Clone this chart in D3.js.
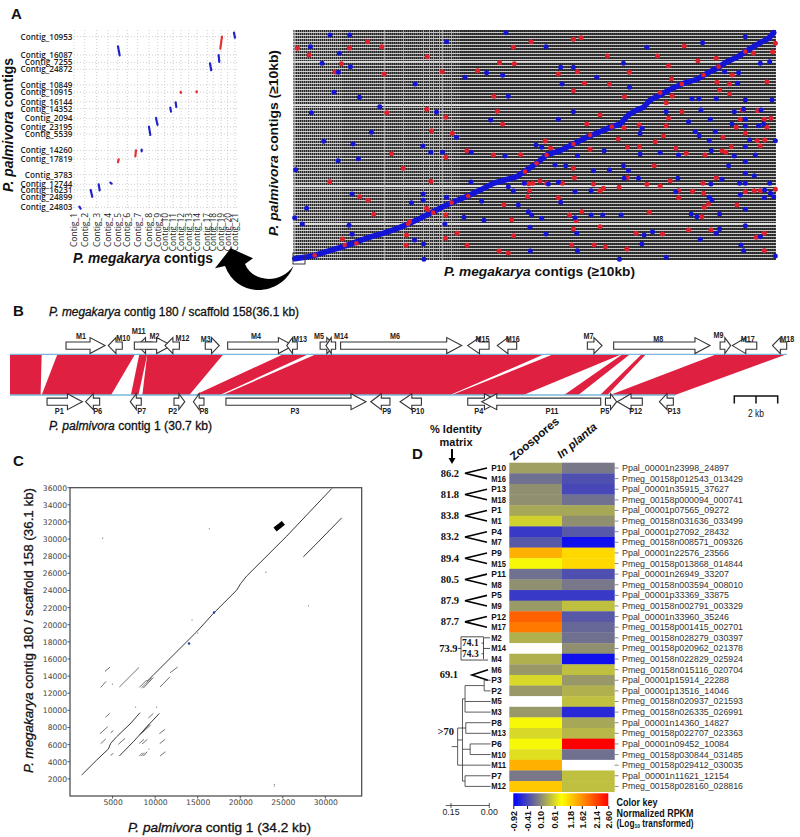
<!DOCTYPE html>
<html>
<head>
<meta charset="utf-8">
<script src="https://cdnjs.cloudflare.com/ajax/libs/d3/7.8.5/d3.min.js"></script>
<style>
  html, body { margin: 0; padding: 0; background: #fff; }
  text { font-family: "Liberation Sans", Arial, sans-serif; fill: #111; }
</style>
</head>
<body>
<div class="chart"></div>
<script>
/* panel A left : contig vs contig synteny */
const megaContigs = ["Contig_1","Contig_2","Contig_3","Contig_4","Contig_5","Contig_6","Contig_7","Contig_8","Contig_9","Contig_10","Contig_11","Contig_12","Contig_13","Contig_14","Contig_17","Contig_18","Contig_19","Contig_20","Contig_21"];
const megaContigPos = [222,254,290,324,353,382,413,447,473,494,519,543,566,591,622,640,663,683,705];
const palmContigs = ["Contig_10953","Contig_16087","Contig_7255","Contig_24872","Contig_10849","Contig_10915","Contig_16144","Contig_14352","Contig_2094","Contig_23195","Contig_5539","Contig_14260","Contig_17819","Contig_3783","Contig_12744","Contig_16231","Contig_24899","Contig_24803"];
const palmContigPos = [110,165,187,208,255,277,305,326,355,381,402,451,477,524,553,570,590,622];
const blueHits = [[238,620,242,626],[272,570,277,591],[296,553,299,571],[331,548,335,551],[354,139,359,166],[425,449,425,454],[447,380,451,405],[468,354,473,376],[511,323,513,335],[527,307,529,321],[630,190,634,211],[656,165,658,187],[702,98,705,113]];
const redHits = [[356,478,354,487],[408,451,406,469],[542,276,543,279],[590,274,590,277],[666,110,661,146]];

/* panel A right : all contigs, rank vs rank */
const mainDiagonal = [[105,716],[135,712],[165,706],[200,695],[240,683],[270,673],[300,662],[335,650],[370,640],[405,628],[445,612],[475,598],[500,585],[530,570],[560,555],[595,540],[630,525],[665,508],[700,490],[735,480],[770,470],[800,450],[830,430],[860,405],[900,392],[940,372],[980,352],[1020,335],[1055,320],[1080,312],[1095,295],[1105,285],[1130,270],[1150,262],[1170,240],[1200,225],[1230,208],[1270,190],[1310,178],[1340,160],[1370,145],[1400,125],[1430,112],[1460,92],[1500,68],[1525,55],[1540,38]];
const diagonalRed = [[165,706],[255,675],[290,670],[445,612],[450,605],[505,570],[520,578],[575,548],[625,528],[795,455],[830,430],[860,405],[940,372],[990,345],[1055,320],[1200,218],[1265,192],[1330,165],[1375,140],[1455,95]];
const blueDots = [[211,45],[270,45],[738,38],[560,65],[152,80],[239,100],[187,130],[272,140],[236,157],[680,158],[728,166],[615,172],[466,192],[223,217],[299,232],[745,229],[360,260],[530,276],[155,278],[692,300],[335,337],[590,352],[192,364],[280,372],[489,378],[513,397],[548,397],[634,397],[735,408],[296,416],[235,422],[108,449],[633,486],[793,490],[745,500],[760,513],[277,522],[490,522],[490,541],[560,532],[455,548],[665,544],[775,555],[141,565],[805,575],[105,593],[612,592],[672,601],[128,612],[268,616],[555,612],[277,643],[464,660],[491,672],[492,718],
  [858,80],[1160,82],[1327,68],[1455,50],[1540,38],[902,142],[940,142],[1090,130],[1500,130],[1528,125],[1435,158],[1010,172],[1393,155],[1108,202],[906,192],[1432,190],[1455,240],[1535,240],[1295,236],[1316,236],[1368,236],[940,275],[1218,275],[1322,270],[1422,275],[1450,268],[1502,270],[895,298],[1285,305],[1350,298],[1455,298],[1415,312],[1455,318],[1495,317],[1510,312],[1146,325],[1140,340],[1305,335],[1317,347],[1365,335],[1347,362],[1468,360],[1545,362],[828,375],[845,382],[1032,392],[952,407],[1140,402],[1200,398],[1255,405],[1353,392],[1422,408],[1485,405],[1455,380],[885,435],[917,437],[1405,437],[1455,425],[1000,452],[1048,450],[1090,437],[1105,452],[1455,460],[1092,475],[1135,475],[1253,475],[1482,467],[1385,478],[1455,490],[865,492],[895,487],[1352,492],[1438,490],[1528,490],[945,515],[993,512],[1247,515],[1513,510],[1530,520],[1540,530],[1347,532],[1440,525],[1512,533],[902,547],[1355,540],[1455,568],[815,585],[845,595],[945,593],[993,585],[1028,585],[1083,585],[1293,582],[1310,590],[1378,582],[1455,617],[810,622],[858,642],[950,640],[1152,645],[1177,635],[1368,640],[1378,627],[1500,650],[1320,658],[1145,672],[952,692],[1442,675],[1450,692],[811,693],[1078,718],[1218,712],[1545,708]];
const redDots = [[113,85],[148,105],[323,65],[269,84],[366,80],[760,82],[813,65],[502,110],[245,131],[226,156],[373,162],[547,155],[653,152],[719,128],[763,131],[702,229],[381,278],[501,268],[712,274],[558,292],[728,313],[515,333],[577,340],[395,401],[621,392],[700,405],[782,404],[558,412],[430,445],[210,485],[513,484],[806,491],[808,512],[803,530],[300,530],[325,541],[732,554],[342,583],[755,599],[440,645],[557,655],[591,640],[761,647],[439,676],[621,676],[717,693],[745,699],[248,657],[500,565],[520,575],[558,585],
  [940,58],[963,53],[1272,78],[1545,70],[1537,95],[1042,108],[1192,108],[1225,137],[1313,122],[1368,115],[1480,100],[895,162],[952,155],[1107,157],[1416,165],[1234,176],[1520,185],[1370,187],[973,190],[1048,193],[1407,192],[1378,210],[940,212],[1408,222],[1093,230],[1236,228],[1218,248],[1265,275],[1492,272],[1020,285],[1447,270],[1225,295],[1440,298],[1532,295],[1512,298],[980,312],[1218,317],[1137,315],[1428,322],[1520,322],[1092,323],[1210,348],[1074,357],[1388,352],[855,363],[1185,365],[1513,360],[1490,362],[1455,340],[872,385],[990,388],[1102,382],[1138,380],[1247,385],[1413,380],[1500,378],[1385,392],[1397,397],[1278,400],[1334,405],[940,445],[1182,437],[943,473],[1102,473],[1368,473],[1230,482],[818,490],[840,483],[860,490],[907,490],[1000,492],[1160,493],[1200,498],[1328,490],[1077,502],[1030,505],[1020,512],[1297,514],[1255,512],[1255,533],[1455,515],[1482,512],[1500,512],[1545,508],[1330,520],[895,533],[1345,552],[1332,562],[1430,555],[928,585],[965,575],[1167,577],[1325,590],[948,602],[940,627],[1020,620],[1285,630],[1352,630],[1128,640],[1207,642],[1512,640],[1488,652],[935,675],[1002,675],[1036,680],[1100,687],[1512,692]];
const wideRows = [125,172,255,290,415,498,612];
const wideColumns = [105,375,430,490,510,520,540,548,575];

/* panel B : gene order, kb along each contig */
const topGenes = ["M1","M10","M11","M2","M12","M3","M4","M13","M5","M14","M6","M15","M16","M7","M8","M9","M17","M18"];
const topStart = [2.60,4.56,5.92,5.77,7.19,9.06,10.10,12.84,14.39,14.66,15.34,21.24,22.61,26.79,28.01,32.95,33.52,35.38];
const topEnd = [4.41,5.21,6.59,7.50,7.86,9.71,13.15,13.33,15.08,15.11,20.96,22.23,23.51,27.47,32.48,33.44,34.65,36.04];
const topStrand = [1,-1,-1,1,-1,1,1,-1,1,-1,1,-1,-1,1,1,1,-1,-1];
const topLabelKb = [3.29,5.26,5.97,6.70,8.00,9.08,11.42,13.46,14.34,15.36,17.87,21.93,23.33,26.84,30.08,32.87,34.23,36.07];
const bottomGenes = ["P1","P6","P7","P2","P8","P3","P9","P10","P4","P11","P5","P12","P13"];
const bottomStart = [1.72,3.51,5.58,7.61,8.51,10.02,16.74,18.10,21.24,21.89,27.63,28.18,30.13];
const bottomEnd = [3.36,4.16,6.09,8.11,9.00,16.52,17.63,19.09,22.71,27.41,28.15,29.34,30.78];
const bottomStrand = [1,-1,-1,1,-1,1,-1,-1,1,-1,1,-1,-1];
const bottomLabelKb = [2.29,4.07,6.11,7.55,9.00,13.22,17.48,18.92,21.75,25.15,27.60,29.03,30.81];
const ribbons = [[0,1.47,0,1.42],[2.20,5.80,1.47,4.69],[6.00,6.37,5.61,5.96],[6.37,9.90,6.14,8.32],[12.68,13.84,8.58,9.74],[14.20,24.78,9.87,20.42],[25.21,28.38,20.50,23.82],[28.42,28.77,25.71,26.37],[29.31,29.51,27.38,27.72],[32.79,36.04,27.84,30.86]];

/* panel C : dot plot, bp */
const xTicksC = [5000,10000,15000,20000,25000,30000];
const yTicksC = [2000,4000,6000,8000,10000,12000,14000,16000,18000,20000,22000,24000,26000,28000,30000,32000,34000,36000];
const lowerPath = [[1370,2450],[3134,4200],[4505,5485],[4780,6146],[5484,6924],[7050,8402],[8226,9725]];
const secondPath = [[5797,4668],[7442,6340],[9400,8480],[10498,9647]];
const upperPath = [[9009,13343],[9792,14121],[12339,16650],[14885,19178],[16843,21317],[19585,24040],[20055,24818],[20750,25674],[25460,30342],[30750,35900]];
const sidePath = [[27419,27930],[28790,29290],[31920,32480]];
const shortHits = [[4113,14549,4700,15054],[3604,12681,4230,13382],[5797,12720,8108,15015],[10576,12720,11751,13926],[11751,14393,12652,15054],[4152,9180,4661,9647],[3525,7274,4426,8091],[3604,6107,4191,6652],[5680,6030,6463,6730],[9205,9103,9793,9647],[10498,7274,11163,7780],[10537,6107,11163,6613],[10576,4668,11203,5174],[8147,4668,8539,5057],[8382,4668,8774,5057],[8617,4668,9087,5174],[8147,6146,8696,6613],[8461,6068,9087,6613],[4779,4746,5092,4979],[4779,7391,5092,7624],[8147,12681,9009,13537],[8382,12604,9597,13810],[8617,12604,9793,13848],[8147,7118,9323,8402],[8382,7313,9479,8286]];
const repeatBlob = [24090,31120,25069,31898];
const strayDots = [[3839,30109],[16373,31198],[23032,26141],[28007,22212],[14336,20539],[15002,19022],[4975,13070],[7716,10386],[10184,10386],[9283,5485],[24011,1361],[24011,1167]];
const strayBlue = [[13984,17816],[16921,21434]];

/* panel D : heat map */
const rowNames = ["P10","M16","P13","M18","P1","M1","P4","M7","P9","M15","P11","M8","P5","M9","P12","M17","M2","M14","M4","M6","P3","P2","M5","M3","P8","M13","P6","M10","M11","P7","M12"];
const geneIds = ["Ppal_00001n23998_24897","Pmeg_00158p012543_013429","Ppal_00001n35915_37627","Pmeg_00158p000094_000741","Ppal_00001p07565_09272","Pmeg_00158n031636_033499","Ppal_00001p27092_28432","Pmeg_00158n008571_009326","Ppal_00001n22576_23566","Pmeg_00158p013868_014844","Ppal_00001n26949_33207","Pmeg_00158n003594_008010","Ppal_00001p33369_33875","Pmeg_00158n002791_003329","Ppal_00001n33960_35246","Pmeg_00158p001415_002701","Pmeg_00158n028279_030397","Pmeg_00158p020962_021378","Pmeg_00158n022829_025924","Pmeg_00158n015116_020704","Ppal_00001p15914_22288","Ppal_00001p13516_14046","Pmeg_00158n020937_021593","Pmeg_00158n026335_026991","Ppal_00001n14360_14827","Pmeg_00158p022707_023363","Ppal_00001n09452_10084","Pmeg_00158p030844_031485","Pmeg_00158p029412_030035","Ppal_00001n11621_12154","Pmeg_00158p028160_028816"];
const zoospores = [0.24,-0.09,0.135,0.135,0.29,0.56,-0.5,-0.27,1.42,0.82,-0.09,0.135,-0.5,0.2,1.96,1.8,0.35,NaN,0.35,0.19,0.61,0.19,NaN,0.19,0.82,0.61,0.82,0.66,1.42,-0.03,1.25];
const inPlanta = [-0.03,-0.33,-0.39,-0.09,0.29,0.135,-0.27,-0.8,1.14,1.14,-0.33,-0.03,-0.5,0.45,-0.27,-0.15,-0.09,0.135,-0.8,0.45,0.19,0.35,0.45,-0.62,0.29,0.4,2.6,-0.09,NaN,0.45,0.45];
const identityPairs = ["86.2","81.8","83.8","83.2","89.4","80.5","87.9","87.7"];
const keyTicks = [-0.92,-0.41,0.10,0.61,1.18,1.62,2.14,2.60];
const keyStops = [-0.92,0.03,0.87,1.75,2.60];
const keyColors = ["#0000ff","#808080","#ffff00","#ff8000","#ff0000"];
/* tree over the last rows, distance from tips */
const treeData = {d:0.124, children:[
  {d:0.105, children:[
    {d:0.095, children:[{d:0.02, children:[{name:"P3"},{name:"P2"}]},{name:"M5"},{name:"M3"}]},
    {d:0.075, children:[{name:"P6"},{name:"M10"}]},
    {d:0.095, children:[{name:"P7"},{name:"M12"}]}
  ]},
  {d:0.092, children:[{name:"P8"},{name:"M13"}]},
  {name:"M11"}
]};

const width = 800, height = 837;
const svg = d3.select(".chart").append("svg")
  .attr("width", width)
  .attr("height", height)
  .attr("viewBox", [0,0,width,height])
  .style("display","block");

function label(x, y, parts, o = {}) {
  const t = svg.append("text")
    .attr("transform", `translate(${x},${y})` + (o.rotate ? ` rotate(${o.rotate})` : ""))
    .attr("text-anchor", o.anchor || "start")
    .style("font-size", (o.size || 10) + "px")
    .style("font-weight", o.weight || "normal");
  if (o.family) t.style("font-family", o.family);
  if (o.fill) t.style("fill", o.fill);
  if (o.fit) t.attr("textLength", o.fit).attr("lengthAdjust", "spacingAndGlyphs");
  // the reference titles sit between regular and bold
  if (o.heavy) t.style("stroke", o.fill || "#111").style("stroke-width", o.heavy);
  [].concat(parts).forEach(p => {
    if (typeof p === "string") t.append("tspan").text(p);
    else t.append("tspan").style("font-style", p.italic ? "italic" : null)
      .style("font-size", p.size ? p.size + "px" : null).attr("dy", p.dy || null).text(p.text);
  });
  return t;
}

/* panel letters */
label(11, 19, "A", {size:15, weight:"bold"});
label(13, 316, "B", {size:15, weight:"bold"});
label(13, 466, "C", {size:15, weight:"bold"});
label(412, 459, "D", {size:15, weight:"bold"});

/* ---------- A left ---------- */
const xA = d3.scaleLinear().domain([222,715]).range([74,238.3]);
const yA = d3.scaleLinear().domain([90,625]).range([30,208.3]);
const gridA = svg.append("g").attr("stroke","#bbb").attr("stroke-width",0.7).attr("stroke-dasharray","1 2");
gridA.selectAll("line.v").data(megaContigPos).join("line").attr("class","v")
  .attr("x1",d=>xA(d)).attr("x2",d=>xA(d)).attr("y1",yA(90)).attr("y2",yA(625));
gridA.selectAll("line.h").data(palmContigPos).join("line").attr("class","h")
  .attr("x1",xA(222)).attr("x2",xA(715)).attr("y1",d=>yA(d)).attr("y2",d=>yA(d));
[[blueHits,"#2222cc"],[redHits,"#e03030"]].forEach(([rows,col]) => {
  svg.append("g").selectAll("line").data(rows).join("line")
    .attr("x1",d=>xA(d[0])).attr("y1",d=>yA(d[1])).attr("x2",d=>xA(d[2])).attr("y2",d=>yA(d[3]))
    .attr("stroke",col).attr("stroke-width",2.2).attr("stroke-linecap","round").attr("stroke-dasharray","3 1");
});
palmContigs.forEach((c,i) => label(xA(222)-1.5, yA(palmContigPos[i])+3, c, {anchor:"end", size:9, weight:600, family:"'Open Sans'", fill:"#222", fit:c.length*4.33}));
megaContigs.forEach((c,i) => label(xA(megaContigPos[i])+3, 213, c, {anchor:"end", rotate:-90, size:8.8, family:"'Open Sans'", fill:"#222", fit:c.length*4.25}));
label(13, 192, [{text:"P. palmivora ",italic:true},"contigs"], {rotate:-90, size:14, weight:"bold", fit:134});
label(73, 263, [{text:"P. megakarya ",italic:true},"contigs"], {size:14, weight:"bold", fit:140});

/* ---------- A right ---------- */
const xAll = d3.scaleLinear().domain([100,1547]).range([293,776]);
const yAll = d3.scaleLinear().domain([30,720]).range([30,260]);
svg.append("rect").attr("x",xAll(100)).attr("y",yAll(30)).attr("width",xAll(1547)-xAll(100)).attr("height",yAll(720)-yAll(30)).attr("fill","#262626");
const grid = svg.append("g").attr("shape-rendering","crispEdges");
// pale vertical hatch, denser towards the left where the contigs are long
grid.selectAll("line.col").data(d3.range(100,1547,6)).join("line").attr("class","col")
  .attr("x1",d=>xAll(d)).attr("x2",d=>xAll(d)).attr("y1",yAll(30)).attr("y2",yAll(720))
  .attr("stroke","#fff").attr("stroke-opacity",d=>d<250?0.4:d<600?0.26:0.1);
grid.selectAll("line.row").data(d3.range(36,720,9)).join("line").attr("class","row")
  .attr("x1",xAll(100)).attr("x2",xAll(1547)).attr("y1",d=>yAll(d)).attr("y2",d=>yAll(d))
  .attr("stroke","#eee").attr("stroke-opacity",0.8);
grid.selectAll("line.wrow").data(wideRows).join("line").attr("class","wrow")
  .attr("x1",xAll(100)).attr("x2",xAll(1547)).attr("y1",d=>yAll(d)).attr("y2",d=>yAll(d))
  .attr("stroke","#ddd").attr("stroke-width",1.5);
grid.selectAll("line.wcol").data(wideColumns).join("line").attr("class","wcol")
  .attr("x1",d=>xAll(d)).attr("x2",d=>xAll(d)).attr("y1",yAll(30)).attr("y2",yAll(720))
  .attr("stroke","#bbb").attr("stroke-opacity",0.75).attr("stroke-width",1);
const blueAll = "#1414d6", redAll = "#e0202c";
svg.append("g").selectAll("circle").data(redDots).join("circle")
  .attr("cx",d=>xAll(d[0])).attr("cy",d=>yAll(d[1])).attr("r",2.5).attr("fill",redAll);
svg.append("g").selectAll("circle").data(blueDots).join("circle")
  .attr("cx",d=>xAll(d[0])).attr("cy",d=>yAll(d[1])).attr("r",2.5).attr("fill",blueAll);
svg.append("path").datum(mainDiagonal)
  .attr("d",d3.line().x(d=>xAll(d[0])).y(d=>yAll(d[1])))
  .attr("fill","none").attr("stroke",blueAll).attr("stroke-width",5.5).attr("stroke-linecap","round");
svg.append("g").selectAll("circle").data(diagonalRed).join("circle")
  .attr("cx",d=>xAll(d[0])).attr("cy",d=>yAll(d[1])).attr("r",2.3).attr("fill",redAll);
svg.append("rect").attr("x",293).attr("y",253).attr("width",12).attr("height",11).attr("fill","none").attr("stroke","#333").attr("stroke-width",1);
label(278, 236, [{text:"P. palmivora ",italic:true},"contigs (≥10kb)"], {rotate:-90, size:13.5, weight:"bold", fit:186});
label(444, 276, [{text:"P. megakarya ",italic:true},"contigs (≥10kb)"], {size:13.5, weight:"bold", fit:191});

/* curved arrow from the boxed corner to the left plot */
svg.append("path")
  .attr("d","M230.7,248.3 L253,258.3 L245,264 C252,282 280,285 293.5,266 C282,296 238,300 225,266 L215,268.3 Z")
  .attr("fill","#000");

/* ---------- B ---------- */
const xB = d3.scaleLinear().domain([0,36.1]).range([10,788]);
const yTop = 354.3, yBottom = 395;
label(49, 316, [{text:"P. megakarya ",italic:true},"contig 180 / scaffold 158(36.1 kb)"], {size:12, fit:250, heavy:0.3});
label(49, 430, [{text:"P. palmivora ",italic:true},"contig 1 (30.7 kb)"], {size:12, fit:163, heavy:0.3});
svg.append("g").selectAll("path").data(ribbons).join("path")
  .attr("d",d=>`M${xB(d[0])},${yTop} L${xB(d[1])},${yTop} L${xB(d[3])},${yBottom} L${xB(d[2])},${yBottom} Z`)
  .attr("fill","#e02040");
svg.append("line").attr("x1",xB(0)).attr("x2",xB(36.05)).attr("y1",yTop).attr("y2",yTop).attr("stroke","#79b8d8").attr("stroke-width",1.3);
svg.append("line").attr("x1",xB(0)).attr("x2",xB(30.86)).attr("y1",yBottom).attr("y2",yBottom).attr("stroke","#79b8d8").attr("stroke-width",1.3);

function geneArrow(start, end, strand, cy) {
  const a = xB(start), b = xB(end), head = Math.min(15, (b-a)*0.55);
  const hb = 3.6, hh = 8;
  return strand > 0
    ? `M${a},${cy-hb} L${b-head},${cy-hb} L${b-head},${cy-hh} L${b},${cy} L${b-head},${cy+hh} L${b-head},${cy+hb} L${a},${cy+hb} Z`
    : `M${b},${cy-hb} L${a+head},${cy-hb} L${a+head},${cy-hh} L${a},${cy} L${a+head},${cy+hh} L${a+head},${cy+hb} L${b},${cy+hb} Z`;
}
const topLift = {M10:2,M12:2,M3:3,M13:3,M15:3,M16:3,M8:3,M17:3,M18:3,M11:-5,M9:-1};
topGenes.forEach((g,i) => {
  svg.append("path").attr("d",geneArrow(topStart[i],topEnd[i],topStrand[i],345.6))
    .attr("fill","#fff").attr("stroke","#333").attr("stroke-width",1.1);
  label(xB(topLabelKb[i]), 339 + (topLift[g]||0), g, {anchor:"middle", size:9, weight:"bold", fit:g.length==2?10:14, fill:"#222"});
});
bottomGenes.forEach((g,i) => {
  svg.append("path").attr("d",geneArrow(bottomStart[i],bottomEnd[i],bottomStrand[i],401.7))
    .attr("fill","#fff").attr("stroke","#333").attr("stroke-width",1.1);
  label(xB(bottomLabelKb[i]), 414, g, {anchor:"middle", size:9, weight:"bold", fit:g.length==2?9:13, fill:"#222"});
});
/* scale bar */
const bar = d3.scaleLinear().domain([0,2]).range([734.3,777.7]);
svg.append("path").attr("d",`M${bar(0)},403.5 V396 H${bar(2)} V403.5 M${bar(1)},396 V403.5`)
  .attr("fill","none").attr("stroke","#111").attr("stroke-width",1.5);
label(bar(1), 416.5, "2 kb", {anchor:"middle", size:11, fit:16});

/* ---------- C ---------- */
const xC = d3.scaleLinear().domain([0,34270]).range([70,361.7]);
const yC = d3.scaleLinear().domain([0,36000]).range([796,487.7]);
const axisC = svg.append("g");
axisC.append("g").attr("transform","translate(0,796)")
  .call(d3.axisBottom(xC).tickValues(xTicksC).tickFormat(d=>d).tickSize(0).tickPadding(4));
axisC.append("g").attr("transform","translate(70,0)")
  .call(d3.axisLeft(yC).tickValues(yTicksC).tickFormat(d=>d).tickSize(0).tickPadding(3));
axisC.selectAll(".domain").remove();
axisC.selectAll("text").style("font-size","7.6px").style("font-family","'DejaVu Sans'").style("fill","#444");
svg.append("g").selectAll("line").data(xTicksC).join("line")
  .attr("x1",d=>xC(d)).attr("x2",d=>xC(d)).attr("y1",796).attr("y2",798.5).attr("stroke","#555");
svg.append("g").selectAll("line").data(yTicksC).join("line")
  .attr("x1",67.5).attr("x2",70).attr("y1",d=>yC(d)).attr("y2",d=>yC(d)).attr("stroke","#555");
svg.append("rect").attr("x",70).attr("y",487.7).attr("width",291.7).attr("height",308.3)
  .attr("fill","none").attr("stroke","#444").attr("stroke-width",1.2);
const lineC = d3.line().x(d=>xC(d[0])).y(d=>yC(d[1]));
[lowerPath,secondPath,upperPath,sidePath].forEach(p => {
  svg.append("path").datum(p).attr("d",lineC).attr("fill","none").attr("stroke","#222").attr("stroke-width",0.9);
});
svg.append("g").selectAll("line").data(shortHits).join("line")
  .attr("x1",d=>xC(d[0])).attr("y1",d=>yC(d[1])).attr("x2",d=>xC(d[2])).attr("y2",d=>yC(d[3]))
  .attr("stroke","#333").attr("stroke-width",0.7);
svg.append("line").attr("x1",xC(repeatBlob[0])).attr("y1",yC(repeatBlob[1])).attr("x2",xC(repeatBlob[2])).attr("y2",yC(repeatBlob[3]))
  .attr("stroke","#000").attr("stroke-width",5);
svg.append("g").selectAll("circle").data(strayDots).join("circle")
  .attr("cx",d=>xC(d[0])).attr("cy",d=>yC(d[1])).attr("r",0.6).attr("fill","#666");
svg.append("g").selectAll("circle").data(strayBlue).join("circle")
  .attr("cx",d=>xC(d[0])).attr("cy",d=>yC(d[1])).attr("r",1.2).attr("fill","#2233aa");
label(33, 773, [{text:"P. megakarya ",italic:true},"contig 180 / scaffold 158 (36.1 kb)"], {rotate:-90, size:13, fit:285, heavy:0.3});
label(128, 832, [{text:"P. palmivora ",italic:true},"contig 1 (34.2 kb)"], {size:13, fit:183, heavy:0.3});

/* ---------- D ---------- */
const color = d3.scaleLinear().domain(keyStops).range(keyColors);
const yD = d3.scaleBand().domain(rowNames).range([462.7,791.7]);
const xD = d3.scaleBand().domain(["Zoospores","In planta"]).range([509.3,614.7]);
const mid = name => yD(name) + yD.bandwidth()/2;
[["Zoospores",zoospores],["In planta",inPlanta]].forEach(([col,vals]) => {
  svg.append("g").selectAll("rect").data(vals).join("rect")
    .attr("x",xD(col)).attr("y",(d,i)=>yD(rowNames[i]))
    .attr("width",xD.bandwidth()).attr("height",yD.bandwidth()+0.3)
    .attr("fill",d=>isNaN(d)?"#fff":color(d));
});
rowNames.forEach((n,i) => {
  label(491.3, mid(n)+3, n, {size:8.6, weight:"bold", fit:n.length==3?14.7:10.5});
  svg.append("line").attr("x1",614.7).attr("x2",618.5).attr("y1",mid(n)).attr("y2",mid(n)).attr("stroke","#888");
  label(622, mid(n)+3, geneIds[i], {size:9, fit:geneIds[i].length==24?121:107, fill:"#333"});
});
label(514, 461, "Zoospores", {rotate:-40, size:11.5, weight:"bold", fit:60});
label(561, 459, [{text:"In planta",italic:true}], {rotate:-40, size:11.5, weight:"bold", fit:48});
label(456, 433, "% Identity", {anchor:"middle", size:10.5, weight:"bold", fit:52});
label(456, 446, "matrix", {anchor:"middle", size:10.5, weight:"bold", fit:33});
svg.append("path").attr("d","M452,449 V460").attr("stroke","#000").attr("stroke-width",2);
svg.append("path").attr("d","M448.5,458 H455.5 L452,464 Z").attr("fill","#000");

/* identity wedges */
const serif = "'Liberation Serif'";
identityPairs.forEach((v,i) => {
  const a = mid(rowNames[i*2]), b = mid(rowNames[i*2+1]);
  svg.append("path").attr("d",`M487,${a} L465,${(a+b)/2} L487,${b}`)
    .attr("fill","none").attr("stroke","#000").attr("stroke-width",1.6);
  label(459, (a+b)/2+3.5, v, {anchor:"end", size:10.5, weight:"bold", family:serif});
});
/* M2 / M14 / M4 bracket */
const yM2 = mid("M2"), yM14 = mid("M14"), yM4 = mid("M4");
svg.append("path").attr("d",`M484,${yM2-1} H461 V${yM4+1} H488 M461,${yM14} H458 M483.5,${yM2} V${yM4} M483.5,${yM2} H490 M483.5,${yM14} H490 M481.5,${(yM2+yM14)/2} H483.5 M481.5,${(yM14+yM4)/2} H483.5`)
  .attr("fill","none").attr("stroke","#222").attr("stroke-width",0.8);
label(462, (yM2+yM14)/2+3.2, "74.1", {size:9.5, weight:"bold", family:serif});
label(462, (yM14+yM4)/2+3.2, "74.3", {size:9.5, weight:"bold", family:serif});
label(457.5, yM14+3.5, "73.9", {anchor:"end", size:10.5, weight:"bold", family:serif});
{
  const a = mid("M6"), b = mid("P3");
  svg.append("path").attr("d",`M488,${a} L472,${(a+b)/2} L488,${b}`).attr("fill","none").attr("stroke","#000").attr("stroke-width",1.6);
  label(458, (a+b)/2+3, "69.1", {anchor:"end", size:10.5, weight:"bold", family:serif});
}
label(454, 735, ">70", {anchor:"end", size:10.5, weight:"bold", family:serif});

/* tree */
const xTree = d3.scaleLinear().domain([0.15,0]).range([451,489.3]);
const tree = svg.append("g").attr("fill","none").attr("stroke","#333").attr("stroke-width",0.8);
function drawNode(n) {
  if (n.name) return {y:mid(n.name), x:490.5};
  const kids = n.children.map(drawNode);
  const ys = kids.map(k=>k.y), x = xTree(n.d), y = (d3.min(ys)+d3.max(ys))/2;
  tree.append("path").attr("d",`M${x},${d3.min(ys)} V${d3.max(ys)}`);
  kids.forEach(k => tree.append("path").attr("d",`M${x},${k.y} H${k.x}`));
  return {x, y};
}
const rootNode = drawNode(treeData);
tree.append("path").attr("d",`M${rootNode.x},${rootNode.y} H${rootNode.x-6}`);

/* tree scale */
svg.append("path").attr("d",`M445.7,805.5 H${xTree(0)} M${xTree(0.15)},803 V808 M${xTree(0)},803 V808`)
  .attr("fill","none").attr("stroke","#333").attr("stroke-width",0.8);
[0.15,0].forEach(d => label(xTree(d), 815, d.toFixed(2), {anchor:"middle", size:8.5, fit:17, fill:"#222"}));

/* colour key */
const xKey = d3.scaleLinear().domain([-0.92,2.60]).range([513.3,608.3]);
const grad = svg.append("defs").append("linearGradient").attr("id","key");
keyStops.forEach((s,i) => grad.append("stop").attr("offset",(s+0.92)/3.52).attr("stop-color",keyColors[i]));
svg.append("rect").attr("x",xKey(-0.92)).attr("y",793.3).attr("width",95).attr("height",12.7).attr("fill","url(#key)");
const keyAxis = svg.append("g").attr("transform","translate(0,806)")
  .call(d3.axisBottom(xKey).tickValues(keyTicks).tickSize(3).tickFormat(d=>d.toFixed(2)));
keyAxis.select(".domain").remove();
keyAxis.selectAll("line").attr("stroke","#111");
keyAxis.selectAll("text").attr("transform","rotate(-90)").attr("text-anchor","end")
  .attr("x",-5).attr("y",0).attr("dy","0.35em")
  .style("font-size","9px").style("font-weight","bold");
label(616.5, 806, "Color key", {size:10, weight:"bold", fit:41});
label(616.5, 816.5, "Normalized RPKM", {size:10, weight:"bold", fit:77});
label(616.5, 826.5, ["(Log",{text:"10",size:6,dy:1.5},{text:" transformed)",dy:-1.5}], {size:10, weight:"bold", fit:77});
</script>
</body>
</html>
